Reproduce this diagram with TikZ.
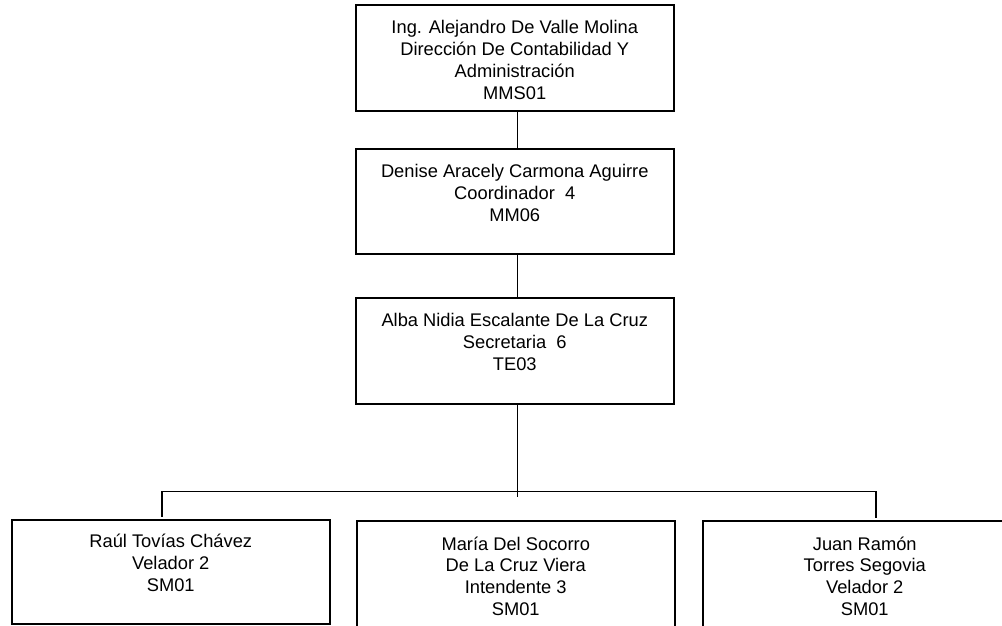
\documentclass[tikz,border=0pt]{standalone}
\usepackage{fontspec}
\setmainfont{Liberation Sans}
\usetikzlibrary{positioning}
\begin{document}
\begin{tikzpicture}[x=1pt,y=-1pt,
  orgbox/.style={draw,line width=1.5pt,minimum width=318pt,minimum height=106pt,inner sep=0pt,anchor=north west},
  orgtext/.style={align=center,inner sep=0pt,font=\fontsize{18.3}{21.7}\selectfont},
  link/.style={line width=1.5pt}]
\useasboundingbox (0,0) rectangle (1002,625);
\fill[white] (0,0) rectangle (1002,625);
\clip (0,0) rectangle (1002,625);
% boxes
\node[orgbox] (b1) at (355,4) {};
\node[orgbox,minimum height=105pt] (b2) at (355,148) {};
\node[orgbox] (b3) at (355,297) {};
\node[orgbox,minimum height=104pt] (bA) at (11,519) {};
\node[orgbox] (bB) at (356,520) {};
\node[orgbox,minimum width=324pt] (bC) at (702,520) {};
% texts
\node[orgtext,below=16.5pt of b1.north] (t1) {Ing. Alejandro De Valle Molina\\Dirección De Contabilidad Y\\Administración\\MMS01};
\node[orgtext,below=16.5pt of b2.north] (t2) {Denise Aracely Carmona Aguirre\\Coordinador~ 4\\MM06};
\node[orgtext,below=16.5pt of b3.north] (t3) {Alba Nidia Escalante De La Cruz\\Secretaria~ 6\\TE03};
\node[orgtext,below=15pt of bA.north] (tA) {Raúl Tovías Chávez\\Velador 2\\SM01};
\node[orgtext,below=16.5pt of bB.north] (tB) {María Del Socorro\\De La Cruz Viera\\Intendente 3\\SM01};
\node[orgtext,below=16.5pt of bC.north] (tC) {Juan Ramón\\Torres Segovia\\Velador 2\\SM01};
% connectors
\coordinate (sp) at (517.5,0);
\coordinate (busL) at (162,491.7);
\coordinate (busR) at (876,491.7);
\coordinate (busE) at (517.5,497);
\draw[link] (b1.south -| sp) -- (b2.north -| sp);
\draw[link] (b2.south -| sp) -- (b3.north -| sp);
\draw[link] (b3.south -| sp) -- (busE);
\draw[link,shorten <=2.5pt,shorten >=2.5pt] (bA.north -| busL) -- (busL) -- (busR) -- (bC.north -| busR);
\end{tikzpicture}
\end{document}
